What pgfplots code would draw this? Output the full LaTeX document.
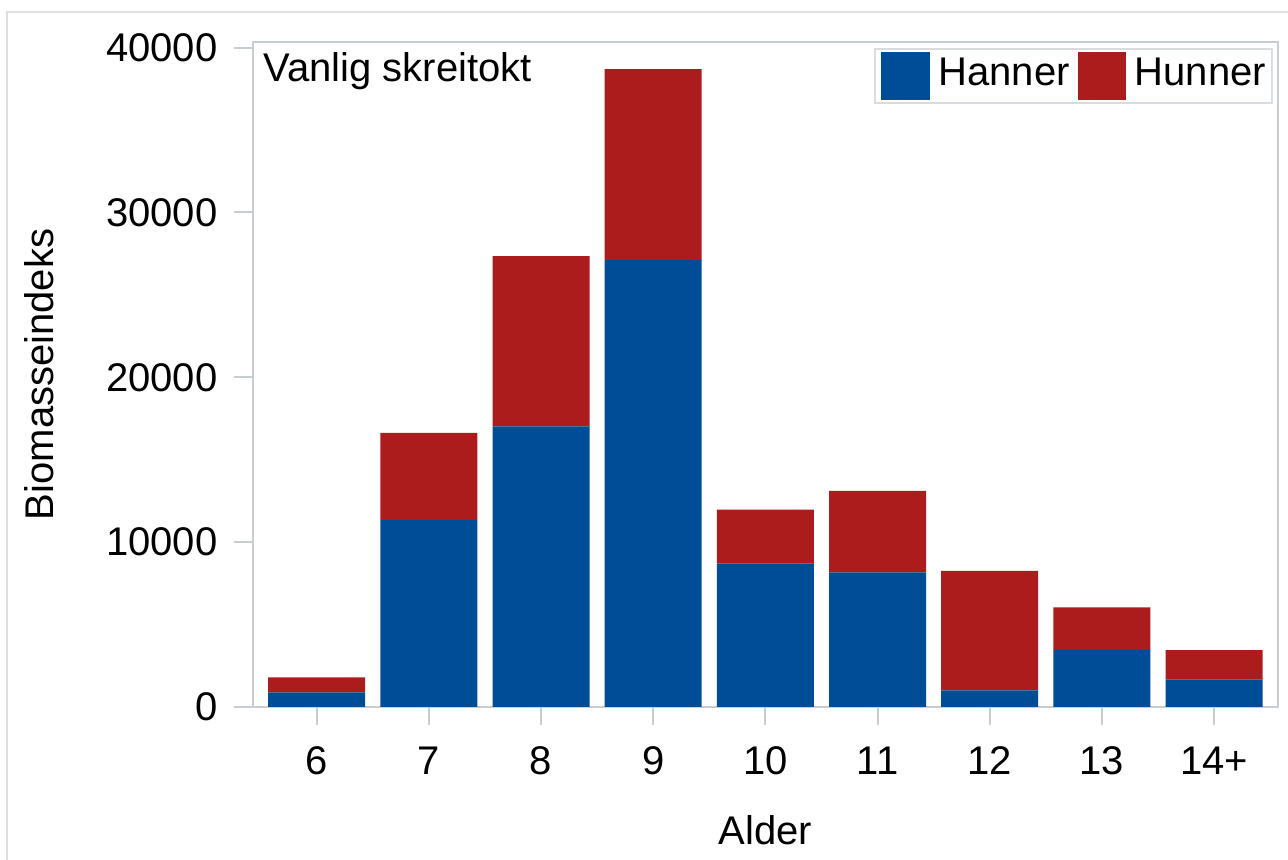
\documentclass[border=0pt]{standalone}
\usepackage{fontspec}
\setmainfont{Liberation Sans}
\usepackage{pgfplots}
\pgfplotsset{compat=1.18}

\definecolor{hanblue}{HTML}{004D97}
\definecolor{hunred}{HTML}{AD1C1D}
\definecolor{axgray}{HTML}{C8CDD1}
\definecolor{framegray}{HTML}{DEDEDE}

% Hanner / Hunner per alder (0 = 6, ..., 8 = 14+)
\pgfplotstableread{
x hanner hunner
0 890 910
1 11330 5300
2 17030 10320
3 27110 11590
4 8700 3280
5 8170 4940
6 1000 7260
7 3450 2590
8 1680 1770
}\biomasse

\begin{document}
\begin{tikzpicture}[font=\fontsize{16}{19}\selectfont]
\begin{axis}[
  name=ax, at={(0,0)}, anchor=south west,
  scale only axis, width=410pt, height=266pt,
  ybar stacked, bar width=0.865,
  xmin=-0.568, xmax=8.57, ymin=0, ymax=40345,
  xtick=data, xticklabels={6,7,8,9,10,11,12,13,14+},
  ytick={0,10000,20000,30000,40000},
  scaled y ticks=false,
  /pgf/number format/1000 sep={},
  /pgf/number format/assume math mode=true,
  tick align=outside, major tick length=7.4pt,
  tick style={axgray, line width=0.8pt},
  axis line style={axgray, line width=0.8pt},
  xtick pos=bottom, ytick pos=left,
  xticklabel style={inner sep=0pt, yshift=-8.4pt},
  yticklabel style={inner sep=0pt, xshift=-6.6pt},
  xlabel={Alder}, ylabel={Biomasseindeks},
  every axis x label/.style={at={(axis description cs:0.5,-0.2075)}, anchor=base},
  every axis y label/.style={at={(axis description cs:-0.1951,0.5)}, rotate=90, anchor=base},
  legend columns=2,
  legend image code/.code={\fill[#1] (0pt,-10.5pt) rectangle (19.4pt,8.7pt);},
  legend style={at={(axis description cs:0.995,0.991)}, anchor=north east,
    draw=axgray!70, line width=0.8pt, fill=white, inner xsep=2.4pt, inner ysep=1.2pt,
    nodes={inner sep=0pt},
    /tikz/every odd column/.append style={column sep=3.4pt},
    /tikz/every even column/.append style={column sep=3.2pt}},
]
\addplot[fill=hanblue, draw=none] table[x=x, y=hanner] {\biomasse};
\addlegendentry{Hanner}
\addplot[fill=hunred, draw=none] table[x=x, y=hunner] {\biomasse};
\addlegendentry{Hunner}
\node[anchor=base west, inner sep=0pt, xshift=4pt, yshift=-16pt] at (rel axis cs:0,1) {Vanlig skreitokt};
\end{axis}
\begin{scope}[shift={(ax.south west)}]
\draw[framegray, line width=0.8pt] (-98.4pt,-120pt) |- (500pt,278pt);
\pgfresetboundingbox
\path[use as bounding box] (-101.2pt,-61.2pt) rectangle (414pt,282.8pt);
\end{scope}
\end{tikzpicture}
\end{document}
